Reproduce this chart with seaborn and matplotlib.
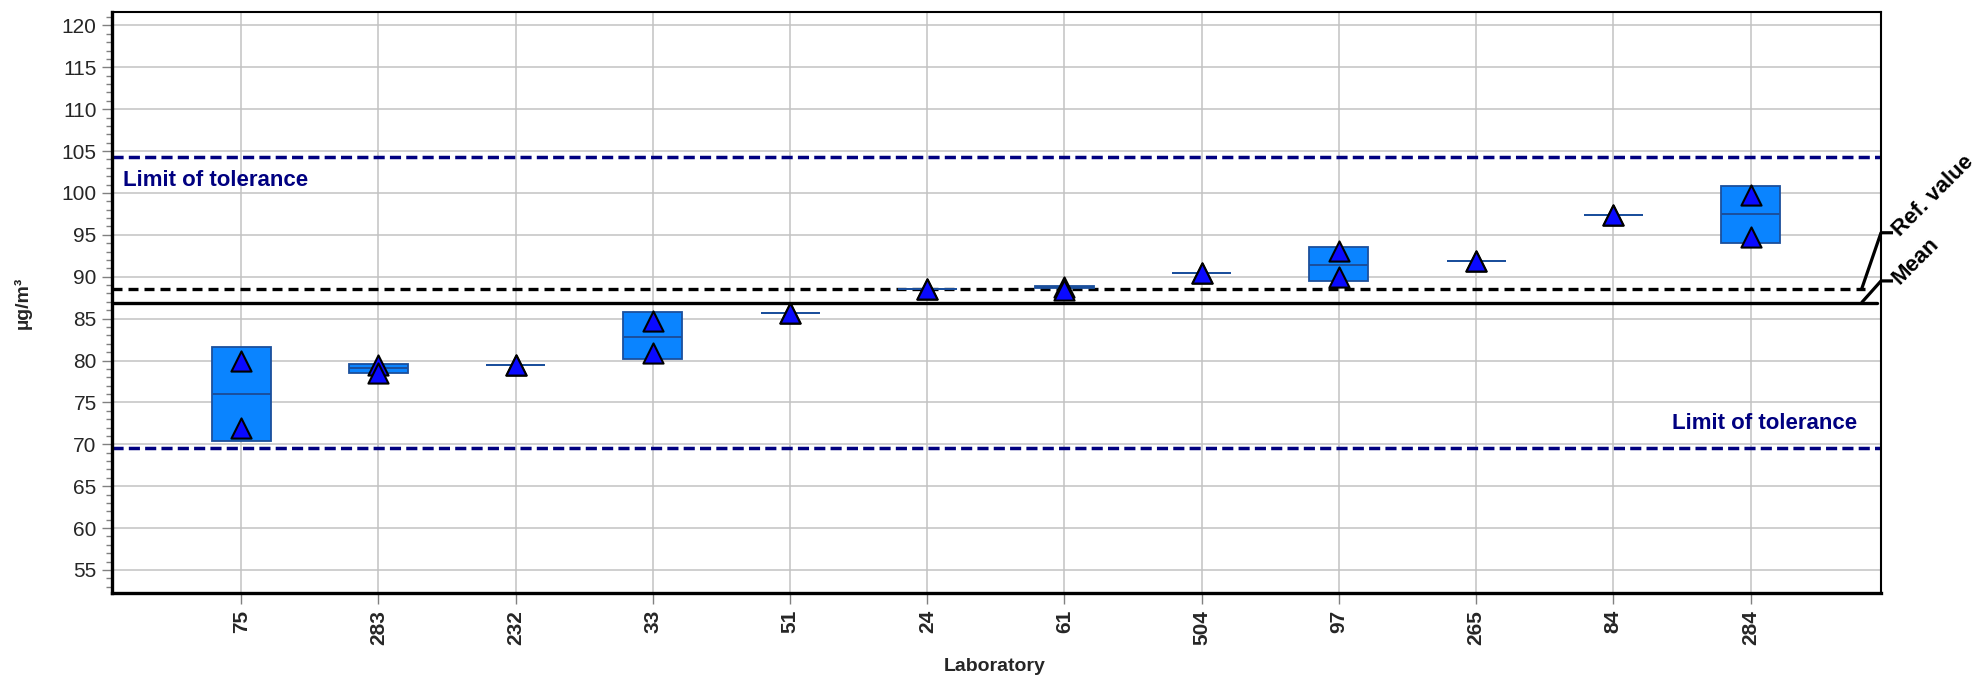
import numpy as np
import pandas as pd
import matplotlib
matplotlib.use("Agg")
import matplotlib.pyplot as plt
from matplotlib.ticker import MultipleLocator
import seaborn as sns

# Laboratory results (two measurements per lab) and reported uncertainty boxes
labs = ["75", "283", "232", "33", "51", "24", "61", "504", "97", "265", "84", "284"]
result_a = [80.0, 79.5, 79.45, 84.75, 85.65, 88.55, 88.8, 90.4, 93.05, 91.9, 97.35, 99.75]
result_b = [71.9, 78.5, 79.45, 80.9, 85.65, 88.55, 88.4, 90.4, 89.95, 91.9, 97.35, 94.75]
box_low = [70.4, 78.55, 79.5, 80.15, 85.7, 88.55, 88.7, 90.45, 89.5, 91.9, 97.4, 94.05]
box_high = [81.65, 79.6, 79.5, 85.75, 85.7, 88.55, 88.85, 90.45, 93.6, 91.9, 97.4, 100.8]
box_mid = [75.95, 79.1, 79.5, 82.8, 85.7, 88.55, 88.75, 90.45, 91.45, 91.9, 97.4, 97.45]

ref_value = 88.5
mean_value = 86.9
tol_upper = 104.3
tol_lower = 69.5
ref_label_y = 95.25
mean_label_y = 89.5

sns.set_theme(style="white")
plt.rcParams["font.family"] = ["Liberation Sans", "DejaVu Sans"]

W, H = 1984, 680
fig = plt.figure(figsize=(W / 100, H / 100), dpi=100)
ax = fig.add_axes([112 / W, 1 - 593 / H, 1769 / W, 581 / H])

n = len(labs)
pos = np.arange(n)
box_w = 0.43
fill_c = "#0a84ff"
edge_c = "#1b4f9c"

# uncertainty boxes with centre line
lo = np.array(box_low)
hi = np.array(box_high)
ax.bar(pos, hi - lo, bottom=lo, width=box_w, color=fill_c, edgecolor=edge_c,
       linewidth=1.3, zorder=3)
ax.hlines(box_mid, pos - box_w / 2, pos + box_w / 2, color=edge_c, linewidth=1.4, zorder=3.5)

# individual results as triangles
df = pd.DataFrame({
    "Laboratory": labs + labs,
    "value": result_a + result_b,
})
sns.stripplot(data=df, x="Laboratory", y="value", order=labs, jitter=False,
              marker="^", size=14.5, color="#0a0aff", edgecolor="black",
              linewidth=1.5, zorder=4, ax=ax)

# tolerance limits
navy = "#000080"
for yv in (tol_upper, tol_lower):
    ax.axhline(yv, color=navy, linewidth=2.5, linestyle=(0, (3.2, 1.5)), zorder=2.5)
ax.text(0.006, 100.8, "Limit of tolerance", transform=ax.get_yaxis_transform(),
        color=navy, fontsize=16, fontweight="bold", ha="left", va="baseline")
ax.text(0.9864, 71.8, "Limit of tolerance", transform=ax.get_yaxis_transform(),
        color=navy, fontsize=16, fontweight="bold", ha="right", va="baseline")

# reference value and mean
ax.axhline(ref_value, xmin=0, xmax=0.991, color="black", linewidth=2.4,
           linestyle=(0, (3.0, 1.8)), zorder=2.5)
ax.axhline(mean_value, xmin=0, xmax=0.998, color="black", linewidth=2.4, zorder=2.5)

ytr = ax.get_yaxis_transform()
for yv, ly, txt in ((ref_value, ref_label_y, "Ref. value"), (mean_value, mean_label_y, "Mean")):
    ax.plot([0.989, 1.0, 1.0068], [yv, ly, ly], transform=ytr, color="black",
            linewidth=2.3, clip_on=False, solid_capstyle="butt", zorder=5)
    ax.text(1.0085, ly, txt, transform=ytr, rotation=45, rotation_mode="anchor",
            ha="left", va="center", fontsize=16, fontweight="bold", color="black")

# axes limits and ticks
ax.set_xlim(-0.942, 11.951)
ax.set_ylim(52.25, 121.6)
ax.yaxis.set_major_locator(MultipleLocator(5))
ax.yaxis.set_minor_locator(MultipleLocator(1))
ax.set_xticks(pos)
ax.set_xticklabels(labs, rotation=90, fontsize=15, fontweight="bold")
ax.tick_params(axis="y", which="major", length=7, width=1.0, color="#808080",
               labelsize=15, pad=4, left=True)
ax.tick_params(axis="y", which="minor", length=4, width=1.0, color="#808080", left=True)
ax.tick_params(axis="x", which="major", length=8, width=1.0, color="#808080",
               pad=4, bottom=True)

ax.grid(True, which="major", axis="both", color="#c2c2c2", linewidth=1.1, zorder=0)
ax.set_axisbelow(True)

for side, lw in (("left", 2.4), ("bottom", 2.4), ("top", 1.5), ("right", 1.5)):
    ax.spines[side].set_visible(True)
    ax.spines[side].set_color("black")
    ax.spines[side].set_linewidth(lw)

ax.set_xlabel("Laboratory", fontsize=14, fontweight="bold")
ax.set_ylabel("µg/m³", fontsize=14, fontweight="bold")
ax.xaxis.set_label_coords(0.499, -0.112)
ax.yaxis.set_label_coords(-0.0455, 0.5)

fig.savefig("out.png", dpi=100)
